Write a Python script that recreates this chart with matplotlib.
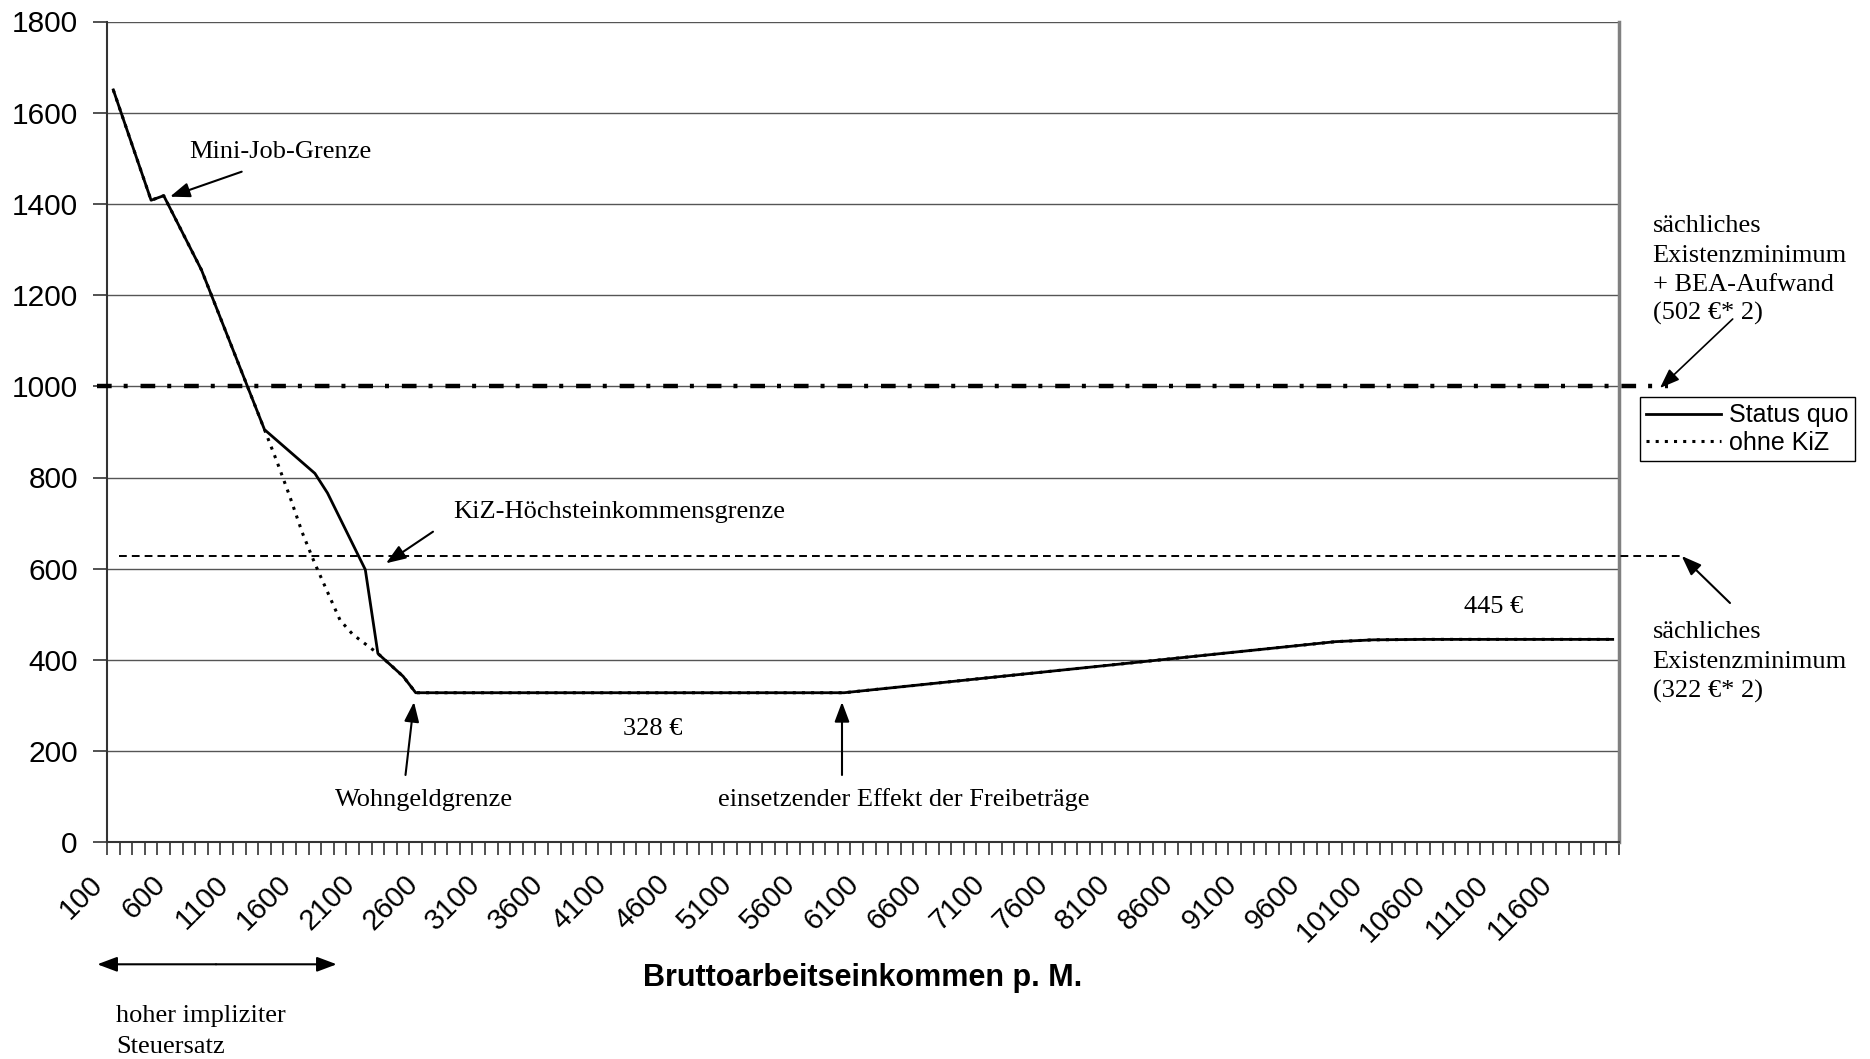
import matplotlib
matplotlib.use("Agg")
import matplotlib.pyplot as plt
import numpy as np
from matplotlib.transforms import ScaledTranslation

# categories: gross monthly earnings in 100 € steps
incomes = np.arange(100, 12100, 100)
tick_labels = [str(v) for v in incomes[::5]]

# breakpoints of the two series (income, value)
status_quo_x = [100, 400, 500, 800, 1300, 1700, 1800, 2100, 2200, 2400, 2500,
                5900, 9800, 10100, 10500, 12000]
status_quo_y = [1650, 1408, 1418, 1255, 905, 809, 766, 598, 414, 364, 328,
                328, 440, 444, 445, 445]

ohne_kiz_x = [100, 400, 500, 800, 1300, 1400, 1500, 1600, 1700, 1800, 1900,
              2000, 2100, 2200, 2400, 2500, 5900, 9800, 10100, 10500, 12000]
ohne_kiz_y = [1650, 1408, 1418, 1255, 905, 834, 759, 679, 611, 549, 487,
              456, 435, 414, 364, 328, 328, 440, 444, 445, 445]

bea_level = 1000   # sächliches Existenzminimum + BEA-Aufwand
kiz_limit = 628    # KiZ-Höchsteinkommensgrenze

W, H = 1870, 1059
SERIF = "Liberation Serif"
SANS = "Liberation Sans"


def fp(x, y):
    """Pixel position (top-left origin) -> figure fraction."""
    return (x / W, 1 - y / H)


fig = plt.figure(figsize=(W / 100, H / 100), dpi=100)
ax = fig.add_axes([107 / W, (H - 842.3) / H, 1512 / W, 820.8 / H])

pos_sq = np.searchsorted(incomes, status_quo_x)
pos_ok = np.searchsorted(incomes, ohne_kiz_x)

ax.plot(pos_sq, status_quo_y, color="black", lw=2.0, label="Status quo", zorder=4)
ax.plot(pos_ok, ohne_kiz_y, color="black", lw=2.2, ls=(0, (1, 2.0)),
        label="ohne KiZ", zorder=5)

ax.axhline(bea_level, xmin=-0.0066, xmax=1.0324, color="black", lw=3.2,
           ls=(0, (3.3, 2.7, 0.9, 2.9)), clip_on=False, zorder=3)
ax.axhline(kiz_limit, xmin=0.008, xmax=1.0417, color="black", lw=1.4,
           ls=(0, (4, 2.6)), clip_on=False, zorder=3)

ax.set_xlim(-0.5, len(incomes) - 0.5)
ax.set_ylim(0, 1800)
ax.set_yticks(np.arange(0, 1801, 200))
ax.yaxis.grid(True, color="#555555", lw=1.0)
ax.set_axisbelow(True)

ax.set_xticks(np.arange(0, len(incomes), 5))
ax.set_xticklabels(tick_labels, rotation=45, ha="right", va="top",
                   rotation_mode="anchor", fontfamily=SANS, fontsize=21)
ax.set_xticks(np.arange(-0.5, len(incomes), 1), minor=True)
ax.tick_params(axis="x", which="major", length=0, pad=20)
ax.tick_params(axis="x", which="minor", length=9, width=1.2, color="#333333")
for lab in ax.get_xticklabels():
    lab.set_transform(lab.get_transform() + ScaledTranslation(-0.25, 0, fig.dpi_scale_trans))

ax.tick_params(axis="y", length=10, width=1.2, color="#333333", pad=11)
for lab in ax.get_yticklabels():
    lab.set_fontfamily(SANS)
    lab.set_fontsize(21.5)

for s in ("left", "bottom"):
    ax.spines[s].set_color("#333333")
    ax.spines[s].set_linewidth(1.5)
ax.spines["right"].set_color("#808080")
ax.spines["right"].set_linewidth(2.5)
ax.spines["top"].set_visible(False)

ax.set_xlabel("Bruttoarbeitseinkommen p. M.", fontfamily=SANS, fontsize=22,
              fontweight="bold")
ax.xaxis.set_label_coords(0.5, (842.3 - 978) / 820.8)
ax.xaxis.label.set_va("center")

leg = ax.legend(loc="upper left", bbox_to_anchor=(1.0139, 0.5425),
                borderaxespad=0, fancybox=False, framealpha=1,
                edgecolor="black", prop={"family": SANS, "size": 18},
                handlelength=3.0, handletextpad=0.3, labelspacing=0.15,
                borderpad=0.25)
leg.get_frame().set_linewidth(1.0)

arrow = dict(arrowstyle="-|>,head_length=0.8,head_width=0.3",
             mutation_scale=15, lw=1.5, color="black", shrinkA=0, shrinkB=0)


def arr(tail, tip, **kw):
    props = dict(arrow)
    props.update(kw)
    fig.add_artist(plt.Annotation("", xy=fp(*tip), xytext=fp(*tail),
                                  xycoords="figure fraction",
                                  arrowprops=props))


def txt(x, y, s, ha="left"):
    fig.text(*fp(x, y), s, ha=ha, va="baseline", fontfamily=SERIF, fontsize=19)


txt(189, 158, "Mini-Job-Grenze")
arr((241.7, 171.7), (170, 196.7))

txt(453, 518, "KiZ-Höchsteinkommensgrenze")
arr((433, 531.7), (386, 563.3))

txt(424, 806, "Wohngeldgrenze", ha="center")
arr((405.5, 775), (414, 702))

txt(653, 735, "328 €", ha="center")

txt(904, 806, "einsetzender Effekt der Freibeträge", ha="center")
arr((842, 775), (842, 702))

txt(1493.5, 613, "445 €", ha="center")

for yy, s in zip((232, 261.5, 291, 320),
                 ("sächliches", "Existenzminimum", "+ BEA-Aufwand", "(502 €* 2)")):
    txt(1652.7, yy, s)
arr((1732.7, 319), (1660, 388), lw=1.2)

for yy, s in zip((638, 668, 698), ("sächliches", "Existenzminimum", "(322 €* 2)")):
    txt(1652.7, yy, s)
arr((1730, 603), (1681.7, 556))

for yy, s in zip((1022, 1053), ("hoher impliziter", "Steuersatz")):
    txt(116, yy, s)
arr((216, 964.3), (97.3, 964.3))
arr((216, 964.3), (336.7, 964.3))

fig.savefig("out.png", dpi=100)
